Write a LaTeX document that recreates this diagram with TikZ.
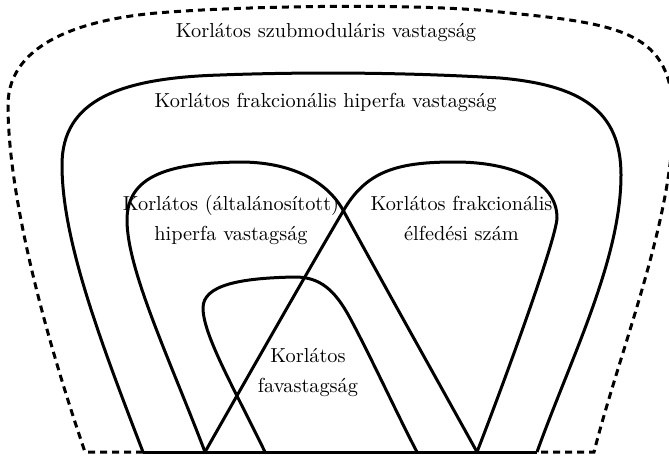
\documentclass[tikz,border=0pt]{standalone}
\tikzset{
  region/.style={line width=1.5pt, line join=round},
  outerregion/.style={line width=1.5pt, dash pattern=on 3.5pt off 2.5pt},
  lbl/.style={font=\fontsize{10.15}{15}\selectfont, align=center, anchor=base, inner sep=0pt},
}
\begin{document}
\begin{tikzpicture}[x=0.5pt,y=-0.5pt]
\useasboundingbox (0,0) rectangle (669,455);
\clip (0,0) rectangle (669,455);
% feet on the baseline
\coordinate (dl) at (85,452);
\coordinate (fl) at (143,452);
\coordinate (hl) at (205,452);
\coordinate (tl) at (265,452);
\coordinate (tr) at (417,452);
\coordinate (hr) at (477,452);
\coordinate (fr) at (537,452);
\coordinate (dr) at (594,452);
% outer dashed region
\draw[outerregion] (fl) -- (dl)
  .. controls (40,320) and (8,190) .. (8,105)
  .. controls (8,40) and (90,17) .. (170,12)
  .. controls (250,6) and (420,3) .. (500,12)
  .. controls (620,24) and (674,30) .. (673,120)
  .. controls (673,220) and (620,350) .. (dr) -- (fr);
% fractional hypertree width
\draw[region] (fl)
  .. controls (100,340) and (62,240) .. (62,165)
  .. controls (62,100) and (120,78) .. (220,75)
  .. controls (300,72) and (400,72) .. (500,78)
  .. controls (580,85) and (621,110) .. (621,175)
  .. controls (621,260) and (570,360) .. (fr);
% generalized hypertree width
\draw[region] (hl)
  .. controls (170,360) and (127,270) .. (127,220)
  .. controls (127,175) and (170,163) .. (240,162)
  .. controls (290,162) and (326,180) .. (343,210)
  .. controls (380,278) and (440,385) .. (hr);
% fractional edge cover
\draw[region] (hl)
  .. controls (260,355) and (320,250) .. (345,208)
  .. controls (368,170) and (400,162) .. (455,162)
  .. controls (510,162) and (557,180) .. (557,218)
  .. controls (556,240) and (505,380) .. (hr);
% tree width
\draw[region] (tl)
  .. controls (235,390) and (203,335) .. (203,308)
  .. controls (203,285) and (240,278) .. (295,277)
  .. controls (320,277) and (335,290) .. (350,318)
  .. controls (370,355) and (400,420) .. (tr);
% baseline
\draw[region] (fl) -- (fr);
% labels (base anchor = baseline of the last line)
\node[lbl] (sub) at (326,37) {Korlátos szubmoduláris vastagság};
\node[lbl] (fhw) at (325.5,107) {Korlátos frakcionális hiperfa vastagság};
\node[lbl] (ghw) at (231,240) {Korlátos (általánosított)\\hiperfa vastagság};
\node[lbl] (fce) at (461.5,240) {Korlátos frakcionális\\élfedési szám};
\node[lbl] (tw) at (308,392) {Korlátos\\favastagság};
\end{tikzpicture}
\end{document}
